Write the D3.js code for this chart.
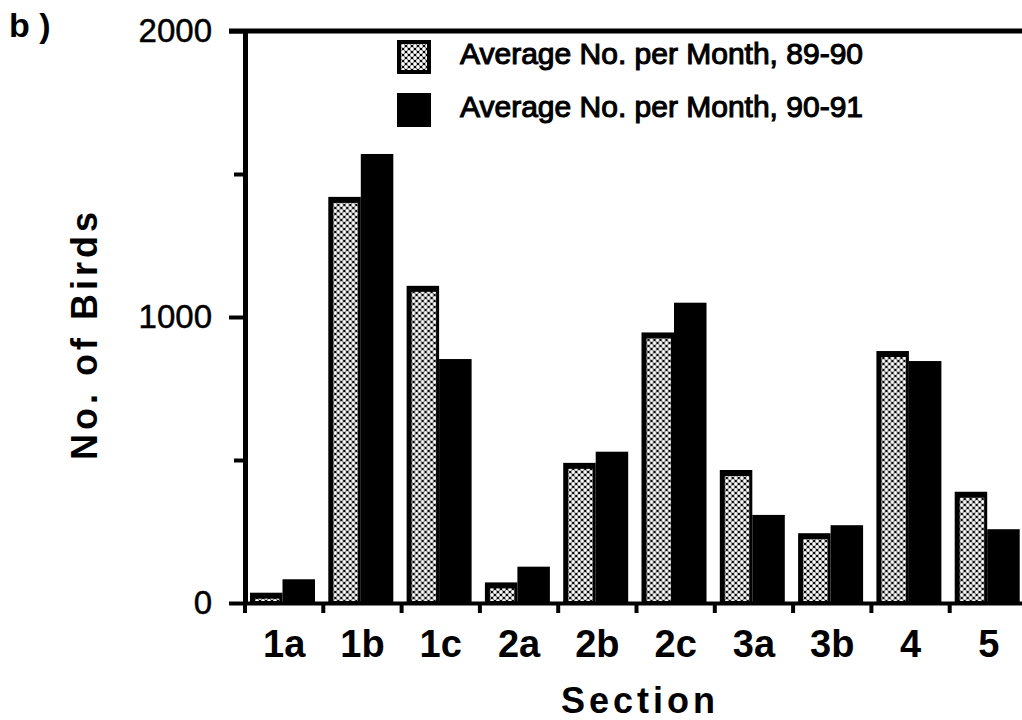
<!DOCTYPE html>
<html>
<head>
<meta charset="utf-8">
<script src="https://cdn.jsdelivr.net/npm/d3@7"></script>
<style>
  body { margin: 0; background: #fff; }
  svg { display: block; font-family: "Liberation Sans", Arial, sans-serif; }
</style>
</head>
<body>
<div id="chart"></div>
<script>
// values (average number of birds per month)
var sections = ["1a", "1b", "1c", "2a", "2b", "2c", "3a", "3b", "4", "5"];
var avg8990 = [36, 1420, 1109, 72, 490, 946, 465, 244, 881, 389];
var avg9091 = [83, 1570, 853, 127, 529, 1050, 308, 272, 846, 258];
var seriesNames = ["Average No. per Month, 89-90", "Average No. per Month, 90-91"];
var yTicks = [0, 500, 1000, 1500, 2000];
var yLabelled = [0, 1000, 2000];

var width = 1022, height = 720;
var margin = {top: 31, left: 245, bottom: 117};
var plotW = 783;
var plotH = height - margin.top - margin.bottom;

var svg = d3.select("#chart").append("svg")
  .attr("width", width)
  .attr("height", height);

// dotted "stipple" fill used for the 89-90 bars
var defs = svg.append("defs");
var pat = defs.append("pattern")
  .attr("id", "stipple")
  .attr("patternUnits", "userSpaceOnUse")
  .attr("width", 6).attr("height", 6);
pat.append("rect").attr("width", 6).attr("height", 6).attr("fill", "#000");
[[0, 0], [6, 0], [0, 6], [6, 6], [3, 3]].forEach(function(p) {
  pat.append("circle").attr("cx", p[0]).attr("cy", p[1]).attr("r", 1.9).attr("fill", "#fff");
});

var g = svg.append("g").attr("transform", "translate(" + margin.left + "," + margin.top + ")");

var x0 = d3.scaleBand().domain(sections).range([0, plotW]).padding(0);
var x1 = d3.scaleBand().domain([0, 1]).range([5, 70]);
var y = d3.scaleLinear().domain([0, 2000]).range([plotH, 0]);

var rows = sections.map(function(s, i) {
  return {section: s, values: [avg8990[i], avg9091[i]]};
});

var groups = g.selectAll(".grp")
  .data(rows)
  .enter().append("g")
  .attr("class", "grp")
  .attr("transform", function(d) { return "translate(" + x0(d.section) + ",0)"; });

// 89-90: black outline with stipple inside
groups.append("rect")
  .attr("x", x1(0))
  .attr("y", function(d) { return y(d.values[0]); })
  .attr("width", x1.bandwidth())
  .attr("height", function(d) { return y(0) - y(d.values[0]); })
  .attr("fill", "#000");
groups.append("rect")
  .attr("x", x1(0) + 5)
  .attr("y", function(d) { return y(d.values[0]) + 6; })
  .attr("width", x1.bandwidth() - 8)
  .attr("height", function(d) { return Math.max(0, y(0) - y(d.values[0]) - 8); })
  .attr("fill", "url(#stipple)");

// 90-91: solid black
groups.append("rect")
  .attr("x", x1(1))
  .attr("y", function(d) { return y(d.values[1]); })
  .attr("width", x1.bandwidth())
  .attr("height", function(d) { return y(0) - y(d.values[1]); })
  .attr("fill", "#000");

// y axis
var yAxis = g.append("g")
  .call(d3.axisLeft(y).tickValues(yTicks)
    .tickFormat(function(d) { return yLabelled.indexOf(d) >= 0 ? d : ""; })
    .tickSize(16).tickSizeOuter(0).tickPadding(17));
yAxis.select(".domain").attr("stroke", "#000").attr("stroke-width", 5);
yAxis.selectAll(".tick line")
  .attr("stroke", "#000").attr("stroke-width", 4)
  .attr("x2", function(d) { return yLabelled.indexOf(d) >= 0 ? -16 : -11; });
yAxis.selectAll(".tick text")
  .attr("fill", "#000")
  .attr("stroke", "#000").attr("stroke-width", 0.5)
  .style("font-size", "33px");

// top frame line
g.append("line")
  .attr("x1", -16).attr("x2", plotW + 10)
  .attr("y1", 0).attr("y2", 0)
  .attr("stroke", "#000").attr("stroke-width", 5);

// x axis: labels at band centres, ticks at band edges
var xAxis = g.append("g")
  .attr("transform", "translate(0," + plotH + ")")
  .call(d3.axisBottom(x0).tickSize(0).tickPadding(27));
xAxis.select(".domain").attr("stroke", "#000").attr("stroke-width", 4);
xAxis.selectAll(".tick text")
  .attr("fill", "#000")
  .style("font-size", "38px")
  .style("font-weight", "bold");

var edges = sections.map(function(s) { return x0(s); }).concat([plotW]);
g.selectAll(".edge")
  .data(edges)
  .enter().append("line")
  .attr("class", "edge")
  .attr("x1", function(d) { return d; }).attr("x2", function(d) { return d; })
  .attr("y1", plotH).attr("y2", plotH + 10)
  .attr("stroke", "#000").attr("stroke-width", 4);

// axis titles
svg.append("text")
  .attr("x", 640).attr("y", 713)
  .attr("text-anchor", "middle")
  .style("font-size", "36px").style("font-weight", "bold")
  .style("letter-spacing", "4px")
  .text("Section");

svg.append("text")
  .attr("transform", "translate(97,334) rotate(-90)")
  .attr("text-anchor", "middle")
  .style("font-size", "36px").style("font-weight", "bold")
  .style("letter-spacing", "4px")
  .text("No.  of  Birds");

svg.append("text")
  .attr("x", 9).attr("y", 37)
  .style("font-size", "34px").style("font-weight", "bold")
  .text("b )");

// legend
var legend = svg.append("g").attr("transform", "translate(397,40)");
var li = legend.selectAll(".li")
  .data(seriesNames)
  .enter().append("g")
  .attr("transform", function(d, i) { return "translate(0," + (i * 53) + ")"; });
li.append("rect")
  .attr("width", 34).attr("height", 34)
  .attr("fill", "#000");
li.filter(function(d, i) { return i === 0; })
  .append("rect")
  .attr("x", 4).attr("y", 4).attr("width", 26).attr("height", 26)
  .attr("fill", "url(#stipple)");
li.append("text")
  .attr("x", 63).attr("y", 24)
  .style("font-size", "30px")
  .attr("stroke", "#000").attr("stroke-width", 1.1)
  .text(function(d) { return d; });
</script>
</body>
</html>
